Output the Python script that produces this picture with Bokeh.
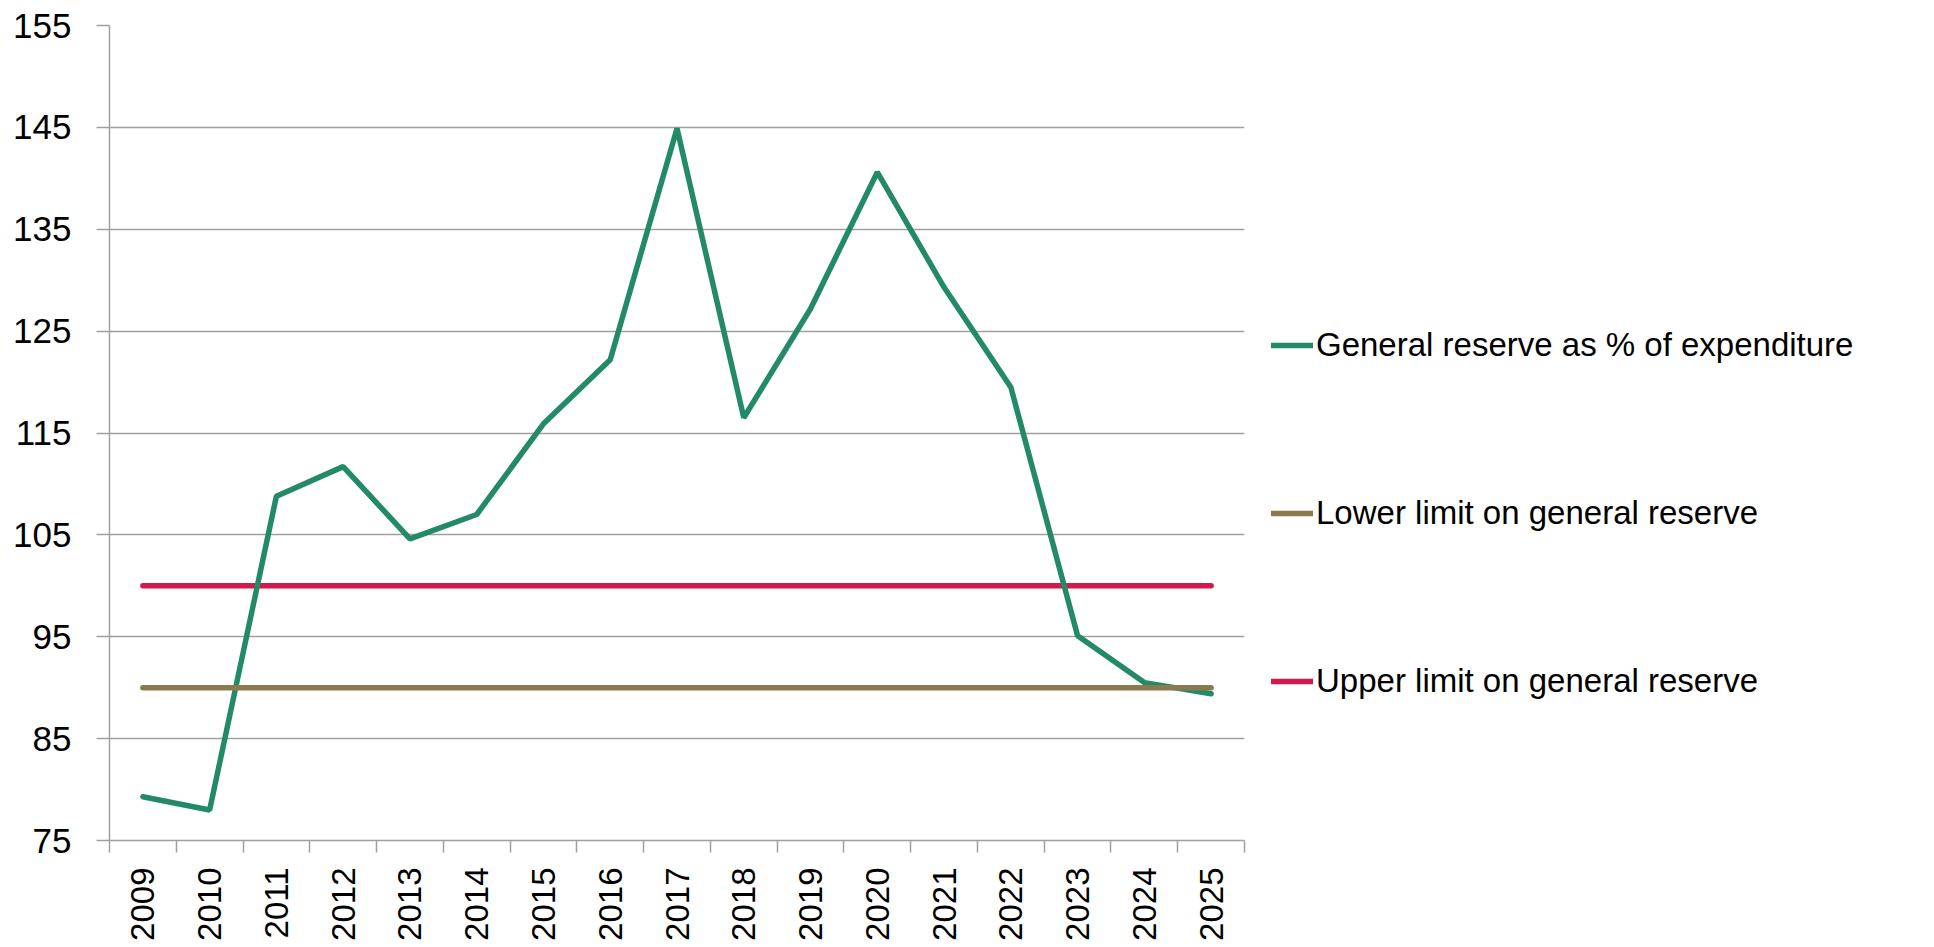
import math
from bokeh.plotting import figure
from bokeh.models import Range1d, FixedTicker, Legend, LegendItem, CustomJSTickFormatter
from bokeh.embed import file_html
from bokeh.resources import INLINE

years = ["2009", "2010", "2011", "2012", "2013", "2014", "2015", "2016", "2017",
         "2018", "2019", "2020", "2021", "2022", "2023", "2024", "2025"]
general_reserve = [79.3, 78.0, 108.8, 111.7, 104.6, 107.0, 115.9, 122.2, 144.9,
                   116.5, 127.2, 140.6, 129.3, 119.5, 95.1, 90.5, 89.4]
lower_limit = [90, 90, 90, 90, 90, 90, 90, 90, 90, 90, 90, 90, 90, 90, 90, 90, 90]
upper_limit = [100, 100, 100, 100, 100, 100, 100, 100, 100, 100, 100, 100, 100, 100, 100, 100, 100]
y_ticks = [75, 85, 95, 105, 115, 125, 135, 145, 155]

FONT = "Liberation Sans"
GRAY = "#a0a0a0"
GREEN = "#238a69"
BROWN = "#8b7a4f"
RED = "#d11a4b"

n = len(years)
xs = [i + 0.5 for i in range(n)]          # category centres
bounds = [float(i) for i in range(n + 1)]  # category boundaries (tick marks)

p = figure(output_backend="svg", toolbar_location=None,
           frame_width=1135, frame_height=815,
           min_border_left=109, min_border_right=670, min_border_top=25, min_border_bottom=10,
           x_range=Range1d(0, n), y_range=Range1d(75, 155))
p.outline_line_color = None
p.background_fill_color = "white"
p.border_fill_color = "white"

# grid
p.xgrid.grid_line_color = None
p.ygrid.ticker = FixedTicker(ticks=y_ticks)
p.ygrid.grid_line_color = GRAY
p.ygrid.grid_line_width = 1.5

# y axis
ya = p.yaxis[0]
ya.ticker = FixedTicker(ticks=y_ticks)
ya.axis_line_color = GRAY
ya.axis_line_width = 1.5
ya.major_tick_line_color = GRAY
ya.major_tick_line_width = 1.5
ya.major_tick_out = 13
ya.major_tick_in = 0
ya.minor_tick_line_color = None
ya.major_label_text_font = FONT
ya.major_label_text_font_size = "35px"
ya.major_label_text_color = "black"
ya.major_label_standoff = 25

# x axis
xa = p.xaxis[0]
xa.ticker = FixedTicker(ticks=xs, minor_ticks=bounds)
xa.formatter = CustomJSTickFormatter(args=dict(years=years),
                                     code="return years[Math.round(tick - 0.5)];")
xa.axis_line_color = GRAY
xa.axis_line_width = 1.5
xa.major_tick_line_color = None
xa.major_tick_out = 0
xa.major_tick_in = 0
xa.minor_tick_line_color = GRAY
xa.minor_tick_line_width = 1.5
xa.minor_tick_out = 12
xa.minor_tick_in = 0
xa.major_label_orientation = math.pi / 2
xa.major_label_text_font = FONT
xa.major_label_text_font_size = "33px"
xa.major_label_text_color = "black"
xa.major_label_standoff = 15

r_up = p.line(xs, upper_limit, line_color=RED, line_width=5.5, line_cap="round")
r_gen = p.line(xs, general_reserve, line_color=GREEN, line_width=5.5, line_cap="round")
r_low = p.line(xs, lower_limit, line_color=BROWN, line_width=5.5, line_cap="round")

legend = Legend(items=[
    LegendItem(label="General reserve as % of expenditure", renderers=[r_gen]),
    LegendItem(label="Lower limit on general reserve", renderers=[r_low]),
    LegendItem(label="Upper limit on general reserve", renderers=[r_up]),
], location=(27, 139))
legend.label_text_font = FONT
legend.label_text_font_size = "33px"
legend.label_text_color = "black"
legend.glyph_width = 42
legend.glyph_height = 40
legend.label_height = 40
legend.label_standoff = 3
legend.spacing = 128
legend.padding = 0
legend.margin = 0
legend.border_line_color = None
legend.background_fill_alpha = 0
p.add_layout(legend, "right")

open("out.html", "w").write(file_html(p, INLINE))
